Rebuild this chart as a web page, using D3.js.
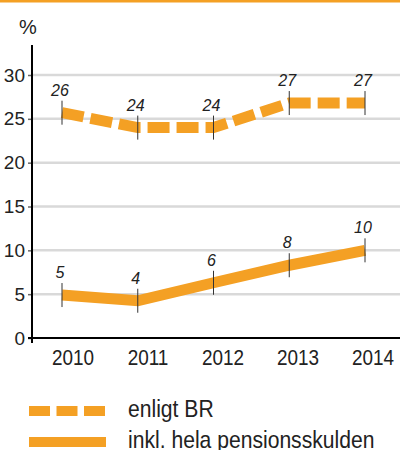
<!DOCTYPE html>
<html>
<head>
<meta charset="utf-8">
<script src="https://cdn.jsdelivr.net/npm/d3@7"></script>
<style>
body { margin: 0; background: #fff; }
svg { display: block; }
</style>
</head>
<body>
<div id="chart"></div>
<script>
// data
var years = ["2010", "2011", "2012", "2013", "2014"];
var enligtBR = [25.7, 24.0, 24.0, 26.8, 26.8];
var enligtBRLabels = ["26", "24", "24", "27", "27"];
var inklPension = [4.9, 4.25, 6.3, 8.3, 10.0];
var inklPensionLabels = ["5", "4", "6", "8", "10"];
var yTicks = [0, 5, 10, 15, 20, 25, 30];
var legendNames = ["enligt BR", "inkl. hela pensionsskulden"];

var orange = "#f4a024";
var font = "'Liberation Sans', Arial, sans-serif";
// condensed look: squeeze regular text horizontally
var squeeze = 0.86;

var svg = d3.select("#chart")
	.append("svg")
	.attr("width", 400)
	.attr("height", 450);

// top rule
svg.append("rect")
	.attr("x", 0).attr("y", 0)
	.attr("width", 400).attr("height", 2.5)
	.style("fill", orange);

var y = d3.scaleLinear().domain([0, 30]).range([338, 75]);
var x = d3.scalePoint().domain(years).range([62, 365]);
var xLabel = d3.scalePoint().domain(years).range([73, 373]);

// gridlines
svg.selectAll(".grid")
	.data(yTicks.filter(function(d) { return d > 0; }))
	.enter().append("line")
	.attr("x1", 32).attr("x2", 400)
	.attr("y1", function(d) { return y(d); })
	.attr("y2", function(d) { return y(d); })
	.style("stroke", "#d9d9d9")
	.style("stroke-width", 2.5);

// y axis
var yAxis = d3.axisLeft(y).tickValues(yTicks).tickSize(4).tickPadding(3);
var gy = svg.append("g").attr("transform", "translate(32,0)").call(yAxis);
gy.select(".domain").remove();
gy.selectAll(".tick line").style("stroke", "#666").style("stroke-width", 1.5);
gy.selectAll(".tick text")
	.style("font-family", font)
	.style("font-size", "19px")
	.style("fill", "#222");

svg.append("line")
	.attr("x1", 32).attr("x2", 32)
	.attr("y1", 45).attr("y2", 343)
	.style("stroke", "#000").style("stroke-width", 2);

// x axis
svg.append("line")
	.attr("x1", 28).attr("x2", 400)
	.attr("y1", y(0)).attr("y2", y(0))
	.style("stroke", "#000").style("stroke-width", 2);

svg.selectAll(".xlab")
	.data(years)
	.enter().append("text")
	.attr("transform", function(d) { return "translate(" + xLabel(d) + ",365) scale(" + squeeze + ",1)"; })
	.attr("text-anchor", "middle")
	.style("font-family", font)
	.style("font-size", "22px")
	.style("fill", "#222")
	.text(function(d) { return d; });

svg.append("text")
	.attr("x", 19).attr("y", 34)
	.style("font-family", font)
	.style("font-size", "20px")
	.style("fill", "#222")
	.text("%");

var line = d3.line()
	.x(function(d, i) { return x(years[i]); })
	.y(function(d) { return y(d); });

function drawSeries(values, labels, dashed)
{
	svg.append("path")
		.datum(values)
		.attr("d", line)
		.style("fill", "none")
		.style("stroke", orange)
		.style("stroke-width", 11)
		.style("stroke-dasharray", dashed ? "22,7" : null)
		.style("stroke-linejoin", "miter");

	svg.selectAll(null)
		.data(values)
		.enter().append("line")
		.attr("x1", function(d, i) { return x(years[i]); })
		.attr("x2", function(d, i) { return x(years[i]); })
		.attr("y1", function(d) { return y(d) - 12; })
		.attr("y2", function(d) { return y(d) + 12; })
		.style("stroke", "#333")
		.style("stroke-width", 1);

	svg.selectAll(null)
		.data(values)
		.enter().append("text")
		.attr("x", function(d, i) { return x(years[i]) - 2; })
		.attr("y", function(d) { return y(d) - 17; })
		.attr("text-anchor", "middle")
		.style("font-family", font)
		.style("font-style", "italic")
		.style("font-size", "16px")
		.style("fill", "#222")
		.text(function(d, i) { return labels[i]; });
}

drawSeries(enligtBR, enligtBRLabels, true);
drawSeries(inklPension, inklPensionLabels, false);

// legend
var legend = svg.selectAll(".legend")
	.data(legendNames)
	.enter().append("g")
	.attr("transform", function(d, i) { return "translate(0," + (411 + i * 31) + ")"; });

legend.append("line")
	.attr("x1", 29).attr("x2", 106)
	.attr("y1", 0).attr("y2", 0)
	.style("stroke", orange)
	.style("stroke-width", 10)
	.style("stroke-dasharray", function(d, i) { return i === 0 ? "21,6.5" : null; });

legend.append("text")
	.attr("transform", "translate(128,6) scale(0.88,1)")
	.style("font-family", font)
	.style("font-size", "24px")
	.style("fill", "#222")
	.text(function(d) { return d; });
</script>
</body>
</html>
